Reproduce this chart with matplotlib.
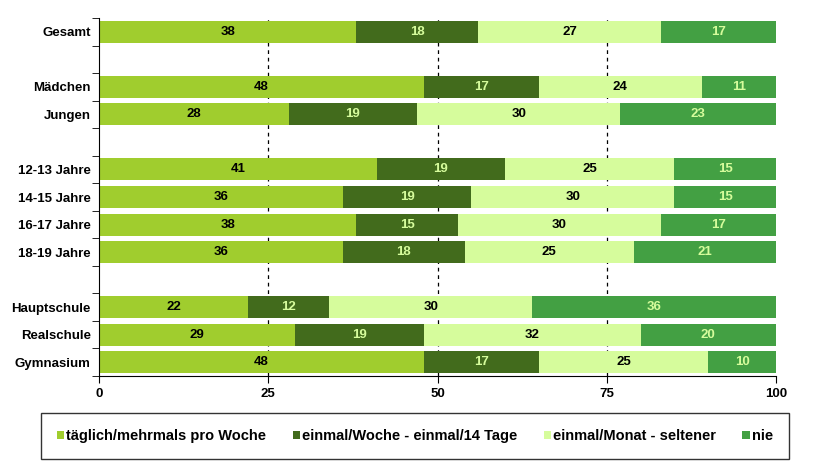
import matplotlib.pyplot as plt
import numpy as np
from matplotlib.patches import Patch

plt.rcParams['font.family'] = ['Liberation Sans', 'DejaVu Sans']
plt.rcParams['font.weight'] = 'bold'

# Gruppen (leere Strings = Lücken zwischen den Blöcken)
categories = ['Gesamt', '', 'Mädchen', 'Jungen', '', '12-13 Jahre', '14-15 Jahre',
              '16-17 Jahre', '18-19 Jahre', '', 'Hauptschule', 'Realschule', 'Gymnasium']

taeglich = [38, None, 48, 28, None, 41, 36, 38, 36, None, 22, 29, 48]
woche = [18, None, 17, 19, None, 19, 19, 15, 18, None, 12, 19, 17]
monat = [27, None, 24, 30, None, 25, 30, 30, 25, None, 30, 32, 25]
nie = [17, None, 11, 23, None, 15, 15, 17, 21, None, 36, 20, 10]

series_names = ['täglich/mehrmals pro Woche', 'einmal/Woche - einmal/14 Tage',
                'einmal/Monat - seltener', 'nie']
colors = ['#a0cd2e', '#426b1c', '#d6fc9c', '#43a043']
text_colors = ['black', '#d6fc9c', 'black', '#d6fc9c']

fig = plt.figure(figsize=(8.26, 4.76), dpi=100)
ax = fig.add_axes([99 / 826, 1 - 376 / 476, 677 / 826, 358 / 476])

n = len(categories)
y = np.arange(n)
left = np.zeros(n)
for vals, col, tcol in zip([taeglich, woche, monat, nie], colors, text_colors):
    v = np.array([0 if x is None else x for x in vals], dtype=float)
    ax.barh(y, v, left=left, height=0.8, color=col, zorder=2)
    for i in range(n):
        if vals[i] is not None:
            ax.text(left[i] + v[i] / 2, y[i], str(vals[i]), ha='center', va='center',
                    fontsize=9.5, fontweight='bold', color=tcol, zorder=3)
    left += v

ax.set_xlim(0, 100)
ax.set_ylim(n - 0.5, -0.5)
ax.set_xticks([0, 25, 50, 75, 100])
ax.set_xticklabels(['0', '25', '50', '75', '100'], fontsize=9.5, fontweight='bold')
ax.set_yticks(y)
ax.set_yticklabels(categories, fontsize=9.5, fontweight='bold')
ax.tick_params(axis='y', which='major', length=0, pad=6)
ax.set_yticks(np.arange(-0.5, n, 1), minor=True)
ax.tick_params(axis='y', which='minor', length=5, direction='out')
ax.tick_params(axis='x', length=5, direction='out')

for xv in [25, 50, 75]:
    ax.axvline(xv, color='black', linestyle=(0, (3, 3)), linewidth=0.9, zorder=1)

ax.spines['top'].set_visible(False)
ax.spines['right'].set_visible(False)

handles = [Patch(facecolor=c, edgecolor='none') for c in colors]
leg = fig.legend(handles, series_names, loc='center',
                 bbox_to_anchor=(415 / 826, 1 - 436 / 476),
                 ncol=4, fancybox=False, edgecolor='black',
                 handlelength=0.5, handleheight=0.5, handletextpad=0.15,
                 columnspacing=1.8, borderpad=1.1,
                 prop={'size': 10.5, 'weight': 'bold'})
leg.get_frame().set_linewidth(1.0)

fig.savefig('out.png', dpi=100)
